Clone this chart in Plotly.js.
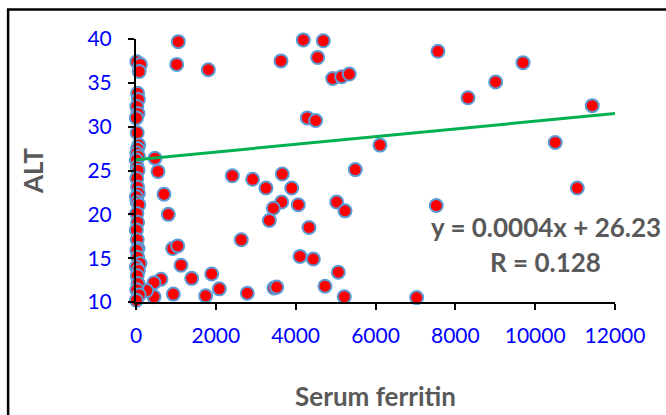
<!DOCTYPE html>
<html>
<head>
<meta charset="utf-8">
<script src="https://cdn.plot.ly/plotly-3.0.1.min.js"></script>
<style>html,body{margin:0;padding:0;background:#fff;}#chart{width:666px;height:415px;}</style>
</head>
<body>
<div id="chart"></div>
<script>
// Serum ferritin (x) and ALT (y) values
var ferritin = [
  1060, 1019, 1812, 3632, 4191, 4692, 4551, 4927, 5152, 5344,
  4291, 4501, 6112, 7565, 8317, 9010, 9695, 11430, 10503, 5494,
  11055, 7523, 5027, 5236, 476, 551, 701, 810, 919, 1044,
  1127, 1395, 1896, 2087, 1746, 935, 451, 626, 451, 268,
  2638, 2788, 2413, 2922, 3256, 3665, 3900, 3650, 3440, 3340,
  4066, 4334, 4108, 4442, 3457, 3525, 4734, 5068, 5218, 7031,
  20, 110, 80, 40, 60, 20, 50, 10, 30, 70,
  40, 20, 60, 10, 30, 50, 20, 40, 60, 10,
  30, 70, 20, 40, 10, 30, 50, 20, 40, 100,
  10, 60, 30, 50, 20, 80, 10
];
var alt = [
  39.7, 37.1, 36.5, 37.5, 39.9, 39.8, 37.9, 35.5, 35.7, 36.0,
  31.0, 30.7, 27.9, 38.6, 33.3, 35.1, 37.3, 32.4, 28.2, 25.1,
  23.0, 21.0, 21.4, 20.4, 26.4, 24.9, 22.3, 20.0, 16.1, 16.4,
  14.2, 12.7, 13.2, 11.5, 10.7, 10.9, 10.6, 12.6, 12.2, 11.3,
  17.1, 11.0, 24.4, 24.0, 23.0, 24.6, 23.0, 21.4, 20.7, 19.3,
  21.1, 18.5, 15.2, 14.9, 11.6, 11.7, 11.8, 13.4, 10.6, 10.5,
  37.4, 37.1, 36.3, 33.8, 33.1, 32.3, 31.5, 31.0, 29.3, 27.9,
  27.5, 27.0, 26.6, 26.2, 25.4, 25.0, 24.1, 23.1, 22.4, 22.0,
  21.4, 21.1, 20.1, 19.1, 18.2, 17.1, 16.1, 15.9, 15.1, 14.4,
  14.0, 13.6, 13.0, 12.1, 11.4, 10.8, 10.2
];
// Linear trendline end points (as drawn in the reference)
var trendX = [0, 12000];
var trendY = [26.23, 31.5];
var xTicks = [0, 2000, 4000, 6000, 8000, 10000, 12000];
var yTicks = [10, 15, 20, 25, 30, 35, 40];
var equationText = "y = 0.0004x + 26.23";
var rText = "R = 0.128";

var FONT = "Lato, 'Open Sans', sans-serif";
var traces = [
  {
    x: ferritin, y: alt, type: "scatter", mode: "markers",
    marker: {color: "#FF0000", size: 13, line: {color: "#5B9BD5", width: 2}},
    cliponaxis: false, hoverinfo: "x+y"
  },
  {
    x: trendX, y: trendY, type: "scatter", mode: "lines",
    line: {color: "#00B050", width: 3}, cliponaxis: false, hoverinfo: "skip"
  }
];
var layout = {
  width: 666, height: 415,
  margin: {l: 136, r: 51, t: 39, b: 113},
  paper_bgcolor: "#ffffff", plot_bgcolor: "rgba(0,0,0,0)",
  showlegend: false,
  font: {family: FONT},
  xaxis: {
    range: [0, 12000], tickvals: xTicks, ticktext: xTicks.map(String),
    showgrid: false, zeroline: false, showline: true, linecolor: "#000", linewidth: 2,
    ticks: "outside", ticklen: 6, tickwidth: 2, tickcolor: "#000", ticklabelstandoff: 8,
    tickfont: {family: FONT, size: 21, color: "#0000FF"},
    title: {text: "<b>Serum ferritin</b>", font: {family: FONT, size: 26, color: "#595959"}, standoff: 42},
    automargin: false
  },
  yaxis: {
    range: [10, 40], tickvals: yTicks, ticktext: yTicks.map(String),
    showgrid: false, zeroline: false, showline: true, linecolor: "#000", linewidth: 2,
    ticks: "outside", ticklen: 6, tickwidth: 2, tickcolor: "#000", ticklabelstandoff: 12,
    tickfont: {family: FONT, size: 21, color: "#0000FF"},
    title: {text: "<b>ALT</b>", font: {family: FONT, size: 26, color: "#595959"}, standoff: 36},
    automargin: false
  },
  shapes: [
    {type: "rect", xref: "paper", yref: "paper", x0: -0.267, x1: 1.3, y0: -0.5, y1: 1.112,
     line: {color: "#000", width: 2.5}, fillcolor: "rgba(0,0,0,0)", layer: "below"}
  ],
  annotations: [
    {xref: "paper", yref: "paper", x: 0.856, y: 0.285, text: "<b>" + equationText + "</b>",
     showarrow: false, xanchor: "center", yanchor: "middle",
     font: {family: FONT, size: 26, color: "#595959"}},
    {xref: "paper", yref: "paper", x: 0.854, y: 0.151, text: "<b>" + rText + "</b>",
     showarrow: false, xanchor: "center", yanchor: "middle",
     font: {family: FONT, size: 26, color: "#595959"}}
  ]
};
Plotly.newPlot("chart", traces, layout, {staticPlot: true, displayModeBar: false});
</script>
</body>
</html>
